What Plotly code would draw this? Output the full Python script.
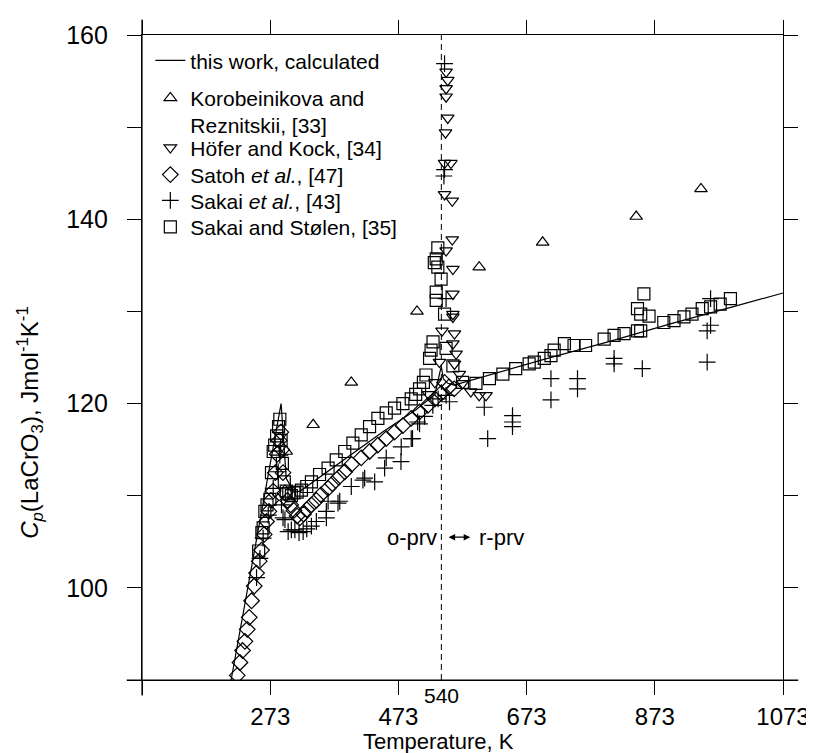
import plotly.graph_objects as go

# ---------------- data ----------------
calc_T = [212, 230, 250, 270, 290, 298, 310, 320, 400, 450, 500, 530, 538, 540, 543, 550, 560,
          600, 700, 800, 900, 1000, 1073]
calc_Cp = [90.0, 96.9, 104.6, 112.3, 120.0, 111.9, 110.4, 110.5, 114.5, 117.0, 119.3, 121.0, 123.5,
           124.0, 122.7, 122.2, 122.0, 122.8, 124.8, 126.7, 128.7, 130.6, 132.0]

koro_T = [298, 340, 399.5, 502, 599, 698, 844, 945]
koro_Cp = [114.8, 117.7, 122.3, 130.0, 134.8, 137.5, 140.3, 143.3]

hofer_T = [520, 530, 537, 541, 547.4, 550, 547.4, 547.4, 550, 546.5, 545, 555, 545, 557, 557, 547.4,
           558, 558, 558, 558, 560.5, 558, 563, 560.5, 568, 573.4, 586, 599, 609.7]
hofer_Cp = [121.0, 122.3, 124.5, 127.9, 156.0, 155.1, 154.2, 153.3, 151.0, 149.4, 146.1, 146.1, 142.7,
            142.0, 137.8, 136.6, 134.6, 131.9, 129.7, 129.4, 127.6, 126.5, 125.4, 124.3, 123.2, 122.2,
            121.3, 120.9, 120.9]

satoh_T = [221.6, 225.8, 229.9, 233.6, 237.2, 240.3, 243.9, 248.1, 251.7, 255.9, 259.5, 263.7, 267.3,
           271, 274, 277.7, 281, 284, 287, 289.6, 291, 293, 296, 300, 305, 310, 315, 319.2, 325, 330,
           337.3, 345, 352, 363.3, 370, 380, 389.3, 400, 415, 428, 441, 454, 467, 480, 493, 506, 519,
           530, 539.6, 545, 552, 560]
satoh_Cp = [90.5, 91.9, 93.2, 94.2, 95.5, 96.8, 98.6, 100.2, 101.6, 102.9, 104.1, 105.8, 107.2,
            108.3, 109.5, 110.5, 112.5, 114.5, 116.0, 116.9, 115.0, 112.5, 110.3, 109.5, 109.0, 108.4,
            107.8, 107.6, 108.0, 108.5, 109.0, 109.5, 110.1, 110.8, 111.3, 112.0, 112.6, 113.4, 114.1,
            114.8, 115.5, 116.2, 116.9, 117.6, 118.4, 119.1, 119.8, 120.5, 121.1, 122.3, 121.8, 121.6]

sakai_T = [251.7, 257, 262, 270, 277.7, 285.4, 288, 290.6, 293, 296, 301, 306, 311.5, 318, 324.4, 330,
           337.3, 345, 360.6, 360.6, 363.3, 378.8, 381.5, 399.5, 417.7, 420.4, 436, 451.5, 454, 477,
           477.4, 493, 495, 503, 506, 513.8, 526.7, 535, 545, 545, 544, 547.4, 547.4, 552.7, 607,
           612.3, 651, 651, 651, 711, 711, 752.4, 752.4, 809.5, 809.5, 853.5, 954.7, 954.7, 960, 960]
sakai_Cp = [101.1, 103.2, 105.4, 107.9, 110.8, 112.6, 114.4, 109.0, 107.6, 107.4, 106.1, 106.3, 106.3,
            106.0, 106.1, 106.4, 106.7, 107.2, 107.6, 108.3, 109.4, 109.2, 109.4, 111.0, 111.7, 111.9,
            111.5, 113.0, 114.1, 113.7, 115.3, 116.2, 116.2, 118.0, 117.8, 118.6, 119.8, 120.5, 156.9,
            145.4, 144.7, 131.4, 120.9, 120.2, 119.6, 116.2, 118.7, 118.0, 117.5, 122.7, 120.4, 122.7,
            121.6, 124.9, 124.3, 123.8, 124.5, 127.9, 128.5, 131.4]

stolen_T = [255, 260, 262, 264.7, 268, 272.5, 275, 277.7, 280, 283, 286, 288, 290, 292, 295, 298, 302,
            306, 310, 315, 321.7, 330, 337.3, 350, 363.3, 376, 389.3, 402, 415, 428, 441, 454, 467,
            480, 493, 500, 506, 512, 516, 521.6, 524, 527, 529, 532, 532, 532, 534.5, 534.5, 539.6,
            545, 547.4, 558, 573, 594, 615, 636, 656, 677, 685, 700.6, 711, 716, 732, 747, 765, 794,
            809.5, 825, 846, 851, 846, 856, 864, 851, 887, 903, 918.5, 931, 947, 960, 975, 991]
stolen_Cp = [104.0, 106.0, 106.5, 108.3, 109.0, 109.6, 112.5, 114.8, 115.5, 116.5, 117.5, 118.3, 116.0,
             113.5, 111.5, 110.5, 110.2, 110.0, 110.3, 110.4, 110.6, 111.0, 111.5, 112.3, 113.0, 113.9,
             114.8, 115.7, 116.6, 117.5, 118.4, 119.0, 119.5, 120.0, 120.5, 121.0, 121.6, 122.3, 123.1,
             124.9, 125.8, 126.7, 135.3, 131.2, 132.1, 135.7, 134.8, 136.9, 133.5, 129.7, 126.0, 124.1,
             122.3, 122.2, 122.7, 123.2, 123.8, 124.3, 124.5, 124.9, 125.2, 125.8, 126.5, 126.3, 126.3,
             127.0, 127.4, 127.6, 127.9, 127.9, 130.3, 131.9, 129.5, 129.7, 128.8, 129.0, 129.4, 129.7,
             130.3, 130.5, 130.8, 131.4]

transition_T = 540
x_tickvals = [273, 473, 673, 873, 1073]
x_minor_tickvals = [73]
y_tickvals = [100, 120, 140, 160]
y_minor_tickvals = [90, 110, 130, 150]

# ---------------- figure ----------------
BLACK = "#000000"
FONT = "Liberation Sans, Arial, sans-serif"
fig = go.Figure()

fig.add_trace(go.Scatter(x=[transition_T, transition_T], y=[90, 160], mode="lines",
                         line=dict(color=BLACK, width=1, dash="6px,4px"),
                         showlegend=False, hoverinfo="skip"))

fig.add_trace(go.Scatter(x=calc_T, y=calc_Cp, mode="lines", name="this work, calculated",
                         line=dict(color=BLACK, width=1.2), legend="legend"))

mk = dict(color=BLACK, line=dict(color=BLACK, width=1.2))
fig.add_trace(go.Scatter(x=koro_T, y=koro_Cp, mode="markers",
                         name="Korobeinikova and<br>Reznitskii, [33]", legend="legend2",
                         marker=dict(symbol="triangle-up-open", size=11, **mk)))
fig.add_trace(go.Scatter(x=hofer_T, y=hofer_Cp, mode="markers",
                         name="Höfer and Kock, [34]", legend="legend3",
                         marker=dict(symbol="triangle-down-open", size=11, **mk)))
fig.add_trace(go.Scatter(x=satoh_T, y=satoh_Cp, mode="markers",
                         name="Satoh <i>et al.</i>, [47]", legend="legend4",
                         marker=dict(symbol="diamond-open", size=12, **mk)))
fig.add_trace(go.Scatter(x=sakai_T, y=sakai_Cp, mode="markers",
                         name="Sakai <i>et al.</i>, [43]", legend="legend5",
                         marker=dict(symbol="cross-thin-open", size=12, **mk)))
fig.add_trace(go.Scatter(x=stolen_T, y=stolen_Cp, mode="markers",
                         name="Sakai and Stølen, [35]", legend="legend6",
                         marker=dict(symbol="square-open", size=12, **mk)))


def leg(y, valign="middle"):
    return dict(x=0.013, y=y, xanchor="left", yanchor="middle", valign=valign,
                font=dict(family=FONT, size=21, color=BLACK),
                bgcolor="rgba(0,0,0,0)", itemwidth=30)


minor_style = dict(ticks="outside", ticklen=14, tickwidth=1.2, tickcolor=BLACK, tickmode="array")

fig.update_layout(
    width=814, height=753,
    margin=dict(l=134, r=37, t=27, b=81),
    paper_bgcolor="white", plot_bgcolor="white",
    font=dict(family=FONT, color=BLACK),
    showlegend=True,
    legend=leg(0.960),
    legend2=leg(0.881, "top"),
    legend3=leg(0.825),
    legend4=leg(0.783),
    legend5=leg(0.743),
    legend6=leg(0.702),
    xaxis=dict(range=[73, 1073], tickmode="array", tickvals=x_tickvals,
               ticks="outside", ticklen=14, tickwidth=1.2, tickcolor=BLACK,
               minor=dict(tickvals=x_minor_tickvals, **minor_style),
               showline=True, linecolor=BLACK, linewidth=1.2, mirror="allticks",
               showgrid=False, zeroline=False,
               tickfont=dict(family=FONT, size=24, color=BLACK), ticklabelstandoff=1),
    yaxis=dict(range=[90, 160], tickmode="array", tickvals=y_tickvals,
               ticks="outside", ticklen=14, tickwidth=1.2, tickcolor=BLACK,
               minor=dict(tickvals=y_minor_tickvals, **minor_style),
               showline=True, linecolor=BLACK, linewidth=1.2, mirror="allticks",
               showgrid=False, zeroline=False,
               tickfont=dict(family=FONT, size=25, color=BLACK), ticklabelstandoff=14),
)

# axis extensions beyond the corners
fig.add_shape(type="line", xref="paper", yref="paper", x0=-0.024, x1=1.024, y0=0, y1=0,
              line=dict(color=BLACK, width=1.2))
fig.add_shape(type="line", xref="paper", yref="paper", x0=0, x1=0, y0=-0.024, y1=1.024,
              line=dict(color=BLACK, width=1.2))

# x axis title
fig.add_annotation(xref="paper", yref="paper", x=0.463, y=-0.0946, xanchor="center",
                   yanchor="middle", showarrow=False, text="Temperature, K",
                   font=dict(family=FONT, size=22, color=BLACK))

# y axis title
fig.add_annotation(xref="paper", yref="y", x=-0.175, y=118, xanchor="center", yanchor="middle",
                   showarrow=False, textangle=-90,
                   text="<i>C<sub>p</sub></i>(LaCrO<sub>3</sub>), Jmol<sup>-1</sup>K<sup>-1</sup>",
                   font=dict(family=FONT, size=24, color=BLACK))

# 540 label
fig.add_annotation(xref="x", yref="paper", x=transition_T, y=0, yshift=-2, yanchor="top",
                   showarrow=False, text="540", font=dict(family=FONT, size=21, color=BLACK))

# o-prv <-> r-prv
fig.add_annotation(xref="x", yref="y", axref="x", ayref="y", x=585, y=105.5, ax=549, ay=105.5,
                   text="", showarrow=True, arrowhead=2, arrowside="end+start", arrowsize=1,
                   arrowwidth=1.3, arrowcolor=BLACK)
fig.add_annotation(xref="x", yref="y", x=536, y=105.5, xanchor="right", showarrow=False,
                   text="o-prv", font=dict(family=FONT, size=22, color=BLACK))
fig.add_annotation(xref="x", yref="y", x=595, y=105.5, xanchor="left", showarrow=False,
                   text="r-prv", font=dict(family=FONT, size=22, color=BLACK))

fig.write_html("out.html")
